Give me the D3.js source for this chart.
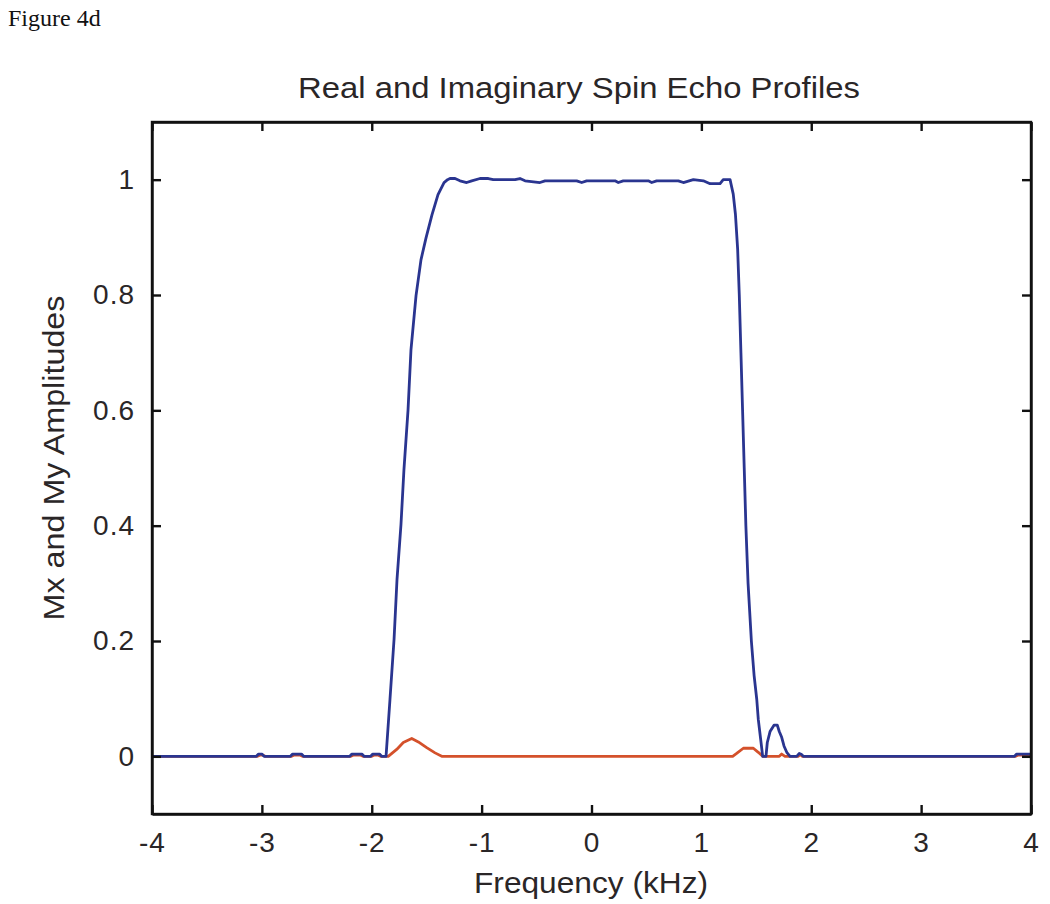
<!DOCTYPE html>
<html>
<head>
<meta charset="utf-8">
<script src="https://cdn.jsdelivr.net/npm/d3@7"></script>
<style>
  body { margin: 0; background: #fff; }
  svg text { font-family: "Liberation Sans", Arial, sans-serif; fill: #2a2627; }
</style>
</head>
<body>
<svg id="chart" width="1050" height="904"></svg>
<script>
// x ticks / y ticks
const xTicks = [-4, -3, -2, -1, 0, 1, 2, 3, 4];
const yTicks = [0, 0.2, 0.4, 0.6, 0.8, 1];

// real part (Mx) - blue
const mxFreq = [
  -4, -3.05, -3.03, -3.0, -2.98, -2.74, -2.72, -2.64, -2.62, -2.2, -2.18, -2.09, -2.07,
  -2.01, -1.99, -1.93, -1.91, -1.87,
  -1.834, -1.797, -1.770, -1.734, -1.707, -1.670, -1.643, -1.597, -1.552, -1.506, -1.452,
  -1.397, -1.342, -1.31, -1.288, -1.242, -1.197, -1.136, -1.090, -1.015, -0.939, -0.894,
  -0.696, -0.651, -0.605, -0.469, -0.423, -0.135, -0.089, -0.044, 0.214, 0.244, 0.289,
  0.517, 0.548, 0.593, 0.790, 0.836, 0.927, 1.018, 1.079, 1.170, 1.199, 1.245, 1.261,
  1.29, 1.31, 1.33, 1.345, 1.36, 1.375, 1.39, 1.405, 1.425, 1.455, 1.48, 1.504,
  1.518, 1.540, 1.558, 1.588, 1.600, 1.625, 1.661, 1.691, 1.709, 1.731, 1.752, 1.777,
  1.807, 1.868, 1.891, 1.913, 1.928, 3.85, 3.87, 4.0
];
const mxVal = [
  0, 0, 0.004, 0.004, 0, 0, 0.004, 0.004, 0, 0, 0.004, 0.004, 0,
  0, 0.004, 0.004, 0, 0,
  0.099, 0.203, 0.307, 0.402, 0.497, 0.600, 0.705, 0.799, 0.861, 0.899, 0.939,
  0.974, 0.995, 1.0, 1.002, 1.002, 0.998, 0.995, 0.998, 1.002, 1.002, 1.0,
  1.0, 1.002, 0.998, 0.995, 0.998, 0.998, 0.995, 0.998, 0.998, 0.995, 0.998,
  0.998, 0.995, 0.998, 0.998, 0.995, 1.0, 0.998, 0.993, 0.993, 1.0, 1.0, 1.0,
  0.975, 0.94, 0.88, 0.80, 0.70, 0.60, 0.50, 0.40, 0.30, 0.20, 0.14, 0.099,
  0.064, 0.029, 0, 0, 0.024, 0.043, 0.054, 0.054, 0.043, 0.033, 0.018, 0.007,
  0, 0, 0.005, 0.003, 0, 0, 0.004, 0.004
];

// imaginary part (My) - red
const myFreq = [
  -4, -3.04, -3.02, -2.99, -2.97, -2.73, -2.71, -2.65, -2.63, -2.19, -2.17, -2.10, -2.08,
  -2.0, -1.98, -1.94, -1.92, -1.85, -1.773, -1.713, -1.636, -1.576, -1.500, -1.424,
  -1.363, 1.285, 1.321, 1.382, 1.473, 1.518, 1.558, 1.709, 1.731, 1.761, 1.88, 1.90,
  1.92, 3.86, 3.88, 4.0
];
const myVal = [
  0, 0, 0.002, 0.002, 0, 0, 0.002, 0.002, 0, 0, 0.002, 0.002, 0,
  0, 0.002, 0.002, 0, 0, 0.012, 0.024, 0.031, 0.025, 0.015, 0.006,
  0, 0, 0.005, 0.014, 0.014, 0.007, 0, 0, 0.004, 0, 0, 0.003,
  0, 0, 0.002, 0.002
];

const margin = { left: 152, right: 1031, top: 122, bottom: 814 };

const svg = d3.select('#chart');

const x = d3.scaleLinear()
  .domain([-4, 4])
  .range([margin.left, margin.right]);

const y = d3.scaleLinear()
  .domain([-0.1, 1.1])
  .range([margin.bottom, margin.top]);

// figure label
svg.append('text')
  .attr('x', 8)
  .attr('y', 26)
  .style('font-family', '"Liberation Serif", "Times New Roman", serif')
  .style('font-size', '24px')
  .style('fill', '#111')
  .text('Figure 4d');

// curves first, frame on top
const line = d3.line()
  .x(d => x(d[0]))
  .y(d => y(d[1]));

svg.append('path')
  .datum(d3.zip(myFreq, myVal))
  .attr('fill', 'none')
  .attr('stroke', '#d4512b')
  .attr('stroke-width', 2.8)
  .attr('stroke-linejoin', 'round')
  .attr('d', line);

svg.append('path')
  .datum(d3.zip(mxFreq, mxVal))
  .attr('fill', 'none')
  .attr('stroke', '#2a3590')
  .attr('stroke-width', 2.8)
  .attr('stroke-linejoin', 'round')
  .attr('d', line);

// axes, ticks pointing inward like matlab
const tickLen = 9;
const plainMinus = d => String(d).replace('\u2212', '-');

const bottomAxis = svg.append('g')
  .attr('transform', `translate(0,${margin.bottom})`)
  .call(d3.axisBottom(x).tickValues(xTicks).tickSizeInner(-tickLen).tickSizeOuter(0).tickPadding(18)
    .tickFormat(d => plainMinus(d)));

const topAxis = svg.append('g')
  .attr('transform', `translate(0,${margin.top})`)
  .call(d3.axisTop(x).tickValues(xTicks).tickSizeInner(-tickLen).tickSizeOuter(0).tickFormat(''));

const leftAxis = svg.append('g')
  .attr('transform', `translate(${margin.left},0)`)
  .call(d3.axisLeft(y).tickValues(yTicks).tickSizeInner(-tickLen).tickSizeOuter(0).tickPadding(17)
    .tickFormat(d => d === 0 || d === 1 ? String(d) : d.toFixed(1)));

const rightAxis = svg.append('g')
  .attr('transform', `translate(${margin.right},0)`)
  .call(d3.axisRight(y).tickValues(yTicks).tickSizeInner(-tickLen).tickSizeOuter(0).tickFormat(''));

[bottomAxis, topAxis, leftAxis, rightAxis].forEach(g => {
  g.select('.domain').attr('stroke', '#111').attr('stroke-width', 2.4);
  g.selectAll('.tick line').attr('stroke', '#111').attr('stroke-width', 2.4);
  g.selectAll('.tick text')
    .style('font-size', '28px')
    .style('letter-spacing', '1px')
    .style('fill', '#2a2627');
});

// make sure the box corners meet
svg.append('rect')
  .attr('x', margin.left)
  .attr('y', margin.top)
  .attr('width', margin.right - margin.left)
  .attr('height', margin.bottom - margin.top)
  .attr('fill', 'none')
  .attr('stroke', '#111')
  .attr('stroke-width', 2.4);

// titles
svg.append('text')
  .attr('x', 579)
  .attr('y', 98)
  .attr('text-anchor', 'middle')
  .attr('textLength', 562)
  .attr('lengthAdjust', 'spacingAndGlyphs')
  .style('font-size', '29px')
  .text('Real and Imaginary Spin Echo Profiles');

svg.append('text')
  .attr('x', 591)
  .attr('y', 893)
  .attr('text-anchor', 'middle')
  .attr('textLength', 234)
  .attr('lengthAdjust', 'spacingAndGlyphs')
  .style('font-size', '29px')
  .text('Frequency (kHz)');

svg.append('text')
  .attr('transform', 'translate(64,458) rotate(-90)')
  .attr('text-anchor', 'middle')
  .attr('textLength', 325)
  .attr('lengthAdjust', 'spacingAndGlyphs')
  .style('font-size', '29px')
  .text('Mx and My Amplitudes');
</script>
</body>
</html>
